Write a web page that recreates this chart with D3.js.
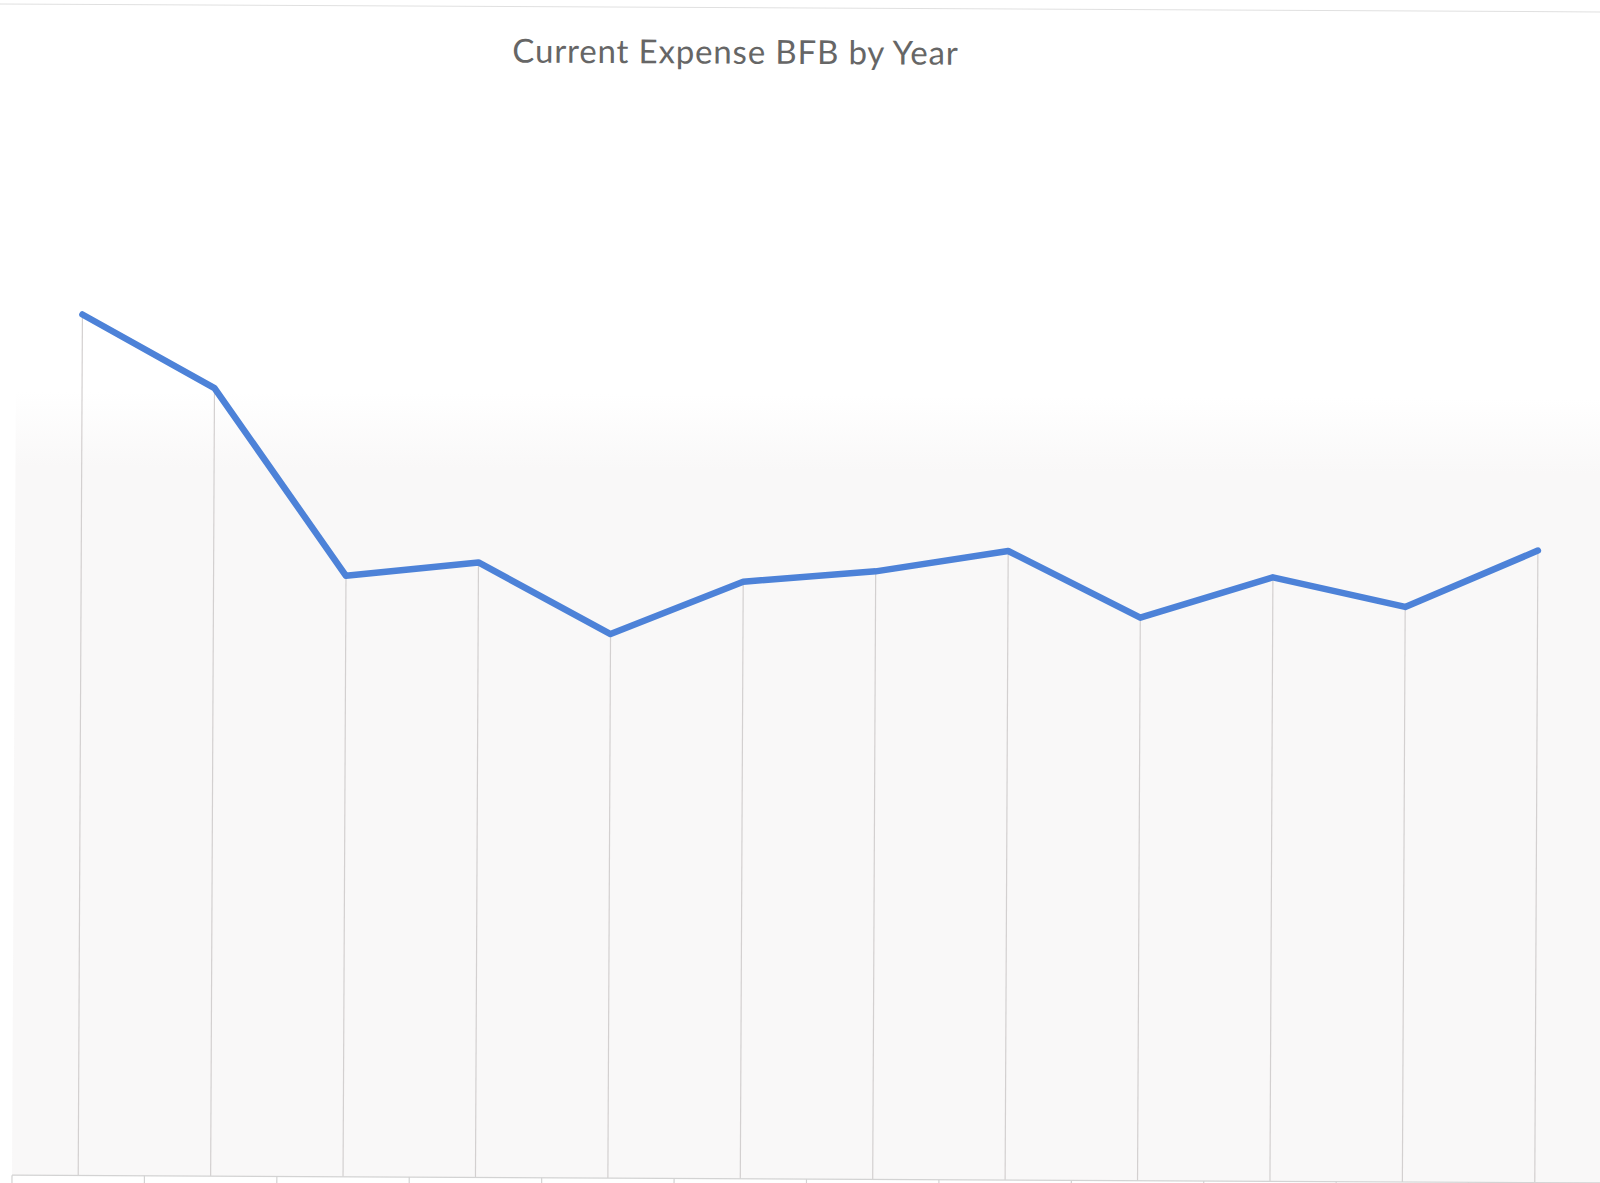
<!DOCTYPE html>
<html>
<head>
<meta charset="utf-8">
<script src="https://cdn.jsdelivr.net/npm/d3@7"></script>
<style>
  html, body { margin: 0; padding: 0; background: #ffffff; }
  svg { display: block; }
</style>
</head>
<body>
<svg id="chart" width="1600" height="1183"></svg>
<script>
// Fiscal years on the category axis
const years = ["2007", "2008", "2009", "2010", "2011", "2012",
               "2013", "2014", "2015", "2016", "2017", "2018"];

// Current expense BFB (index units) for each year
const expense = [861, 788, 601, 615, 544, 597, 608, 629, 563, 604, 575, 632];

const chartTitle = "Current Expense BFB by Year";

const svg = d3.select("#chart");

// Plot frame
const baseY = 1179;
const x = d3.scaleBand().domain(years).range([12, 1601]).padding(0);
const y = d3.scaleLinear().domain([0, 1000]).range([baseY, 179]);
const cx = d => x(d) + x.bandwidth() / 2;

// soft tint that fades in over the lower plot area
const grad = svg.append("defs").append("linearGradient")
  .attr("id", "tint")
  .attr("gradientUnits", "userSpaceOnUse")
  .attr("x1", 0).attr("x2", 0).attr("y1", 395).attr("y2", 470);
grad.append("stop").attr("offset", 0).attr("stop-color", "#ffffff");
grad.append("stop").attr("offset", 1).attr("stop-color", "#f9f8f8");

// whole sheet sits slightly turned on the page
const g = svg.append("g").attr("transform", "rotate(0.28, 800, 1179)");

g.append("rect")
  .attr("x", 12).attr("y", 395)
  .attr("width", 1600).attr("height", baseY - 395)
  .attr("fill", "url(#tint)");

// top border of the chart box
g.append("line")
  .attr("x1", -20).attr("x2", 1620)
  .attr("y1", 8).attr("y2", 8)
  .attr("stroke", "#e0e0e0").attr("stroke-width", 1);

// title
g.append("text")
  .attr("x", 730).attr("y", 64)
  .attr("text-anchor", "middle")
  .attr("font-family", "Lato, 'Open Sans', sans-serif")
  .attr("font-size", 33)
  .attr("letter-spacing", 0.85)
  .attr("fill", "#666666")
  .text(chartTitle);

const series = years.map((yr, i) => ({ year: yr, value: expense[i] }));

// drop lines from each point to the category axis
g.append("g").selectAll("line")
  .data(series)
  .join("line")
  .attr("x1", d => cx(d.year)).attr("x2", d => cx(d.year))
  .attr("y1", d => y(d.value)).attr("y2", baseY)
  .attr("stroke", "#d3d0d0").attr("stroke-width", 1.2);

// category axis line with tick marks between categories
const axis = g.append("g");
axis.append("line")
  .attr("x1", x.range()[0]).attr("x2", x.range()[1])
  .attr("y1", baseY).attr("y2", baseY)
  .attr("stroke", "#d3d3d3").attr("stroke-width", 1.2);
axis.selectAll("line.tick")
  .data(years.map(yr => x(yr)).concat([x.range()[1]]))
  .join("line")
  .attr("class", "tick")
  .attr("x1", d => d).attr("x2", d => d)
  .attr("y1", baseY).attr("y2", baseY + 8)
  .attr("stroke", "#d3d3d3").attr("stroke-width", 1.2);

// the series line
const line = d3.line()
  .x(d => cx(d.year))
  .y(d => y(d.value));

g.append("path")
  .datum(series)
  .attr("d", line)
  .attr("fill", "none")
  .attr("stroke", "#4d82d8")
  .attr("stroke-width", 6.5)
  .attr("stroke-linejoin", "round")
  .attr("stroke-linecap", "round");
</script>
</body>
</html>
